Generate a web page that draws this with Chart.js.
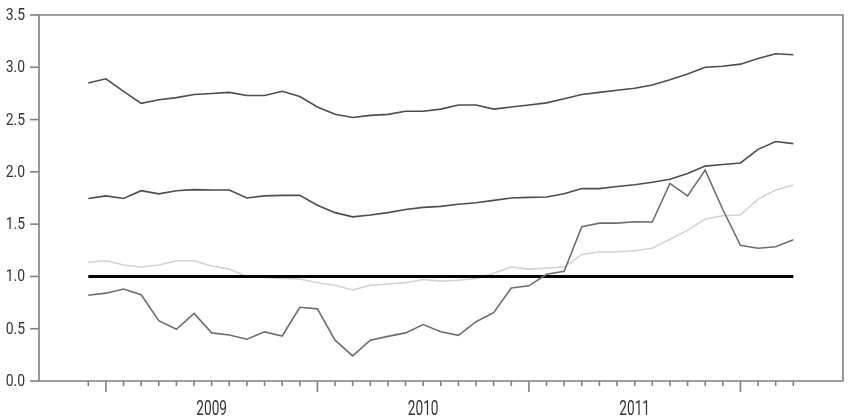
<!DOCTYPE html>
<html>
<head>
<meta charset="utf-8">
<script src="https://cdn.jsdelivr.net/npm/chart.js@4.4.1/dist/chart.umd.min.js"></script>
<style>
  html, body { margin: 0; padding: 0; background: #fff; }
</style>
</head>
<body>
<canvas id="chart" width="850" height="419"></canvas>
<script>
// monthly observations, Dec 2008 .. Apr 2012
const months = [
  '2008-12',
  '2009-01','2009-02','2009-03','2009-04','2009-05','2009-06','2009-07','2009-08','2009-09','2009-10','2009-11','2009-12',
  '2010-01','2010-02','2010-03','2010-04','2010-05','2010-06','2010-07','2010-08','2010-09','2010-10','2010-11','2010-12',
  '2011-01','2011-02','2011-03','2011-04','2011-05','2011-06','2011-07','2011-08','2011-09','2011-10','2011-11','2011-12',
  '2012-01','2012-02','2012-03','2012-04'
];
const yearLabels = ['2009', '2010', '2011'];
const yTicks = [0.0, 0.5, 1.0, 1.5, 2.0, 2.5, 3.0, 3.5];

const upper = [2.85, 2.89, 2.77, 2.655, 2.69, 2.71, 2.74, 2.75, 2.76, 2.73, 2.73, 2.77, 2.72, 2.62, 2.55, 2.52, 2.54, 2.55, 2.58, 2.58, 2.60,
  2.64, 2.64, 2.60, 2.62, 2.64, 2.66, 2.70, 2.74, 2.76, 2.78, 2.80, 2.83, 2.88, 2.935, 3.00, 3.01, 3.03, 3.085, 3.13, 3.12];
const middle = [1.745, 1.77, 1.745, 1.82, 1.79, 1.82, 1.83, 1.826, 1.826, 1.75, 1.77, 1.775, 1.775, 1.68, 1.61, 1.57, 1.587, 1.61, 1.64, 1.66, 1.67,
  1.69, 1.705, 1.727, 1.75, 1.756, 1.76, 1.79, 1.84, 1.84, 1.86, 1.877, 1.90, 1.93, 1.985, 2.055, 2.07, 2.085, 2.215, 2.29, 2.27];
const light = [1.135, 1.15, 1.11, 1.09, 1.11, 1.15, 1.15, 1.10, 1.07, 1.00, 0.99, 0.98, 0.975, 0.94, 0.915, 0.87, 0.915, 0.927, 0.94, 0.97, 0.955,
  0.963, 0.98, 1.03, 1.09, 1.07, 1.08, 1.09, 1.21, 1.233, 1.236, 1.245, 1.27, 1.355, 1.44, 1.55, 1.58, 1.587, 1.74, 1.826, 1.874];
const lower = [0.82, 0.84, 0.88, 0.825, 0.577, 0.494, 0.647, 0.46, 0.44, 0.40, 0.47, 0.43, 0.705, 0.69, 0.39, 0.24, 0.39, 0.427, 0.46, 0.54, 0.47,
  0.437, 0.567, 0.653, 0.89, 0.91, 1.02, 1.05, 1.475, 1.51, 1.51, 1.523, 1.52, 1.89, 1.77, 2.017, 1.64, 1.297, 1.27, 1.284, 1.35];
const reference = 1.0;

const pts = arr => arr.map((v, i) => ({ x: i, y: v }));

function condensedText(ctx, text, x, y, size, sx, align) {
  ctx.save();
  ctx.translate(x, y);
  ctx.scale(sx, 1);
  ctx.font = size + 'px Roboto, "Liberation Sans", sans-serif';
  ctx.textAlign = align;
  ctx.textBaseline = 'alphabetic';
  ctx.fillStyle = '#333';
  ctx.fillText(text, 0, 0);
  ctx.restore();
}

const frame = {
  id: 'frame',
  beforeDatasetsDraw(chart) {
    const ctx = chart.ctx;
    const a = chart.chartArea;
    const xs = chart.scales.x, ys = chart.scales.y;
    ctx.save();
    ctx.strokeStyle = '#808080';
    ctx.lineWidth = 1.6;
    ctx.beginPath();
    ctx.moveTo(a.left, a.top); ctx.lineTo(a.right, a.top);
    ctx.lineTo(a.right, a.bottom); ctx.lineTo(a.left, a.bottom);
    ctx.closePath();
    ctx.stroke();

    // y ticks + labels
    yTicks.forEach(v => {
      const y = ys.getPixelForValue(v);
      ctx.beginPath();
      ctx.moveTo(a.left - 9, y); ctx.lineTo(a.left, y);
      ctx.stroke();
      condensedText(ctx, v.toFixed(1), a.left - 14, y + 5, 17, 0.82, 'right');
    });

    // month ticks, longer at January
    months.forEach((m, i) => {
      const x = xs.getPixelForValue(i);
      const len = m.endsWith('-01') ? 11 : 5;
      ctx.beginPath();
      ctx.moveTo(x, a.bottom); ctx.lineTo(x, a.bottom + len);
      ctx.stroke();
    });

    // year labels centred on each year
    yearLabels.forEach(yr => {
      const jan = months.indexOf(yr + '-01');
      const x = xs.getPixelForValue(jan + 6);
      condensedText(ctx, yr, x, 415, 19.5, 0.7, 'center');
    });
    ctx.restore();
  }
};

const line = (data, color, width, order) => ({
  data: pts(data),
  borderColor: color,
  borderWidth: width,
  pointRadius: 0,
  tension: 0,
  fill: false,
  order: order
});

new Chart(document.getElementById('chart').getContext('2d'), {
  type: 'line',
  data: {
    datasets: [
      line(upper, '#4d4d4d', 1.6, 1),
      line(middle, '#4d4d4d', 1.6, 1),
      line(months.map(() => reference), '#000000', 3, 2),
      line(light, '#d2d2d2', 1.6, 3),
      line(lower, '#6e6e6e', 1.6, 1)
    ]
  },
  options: {
    responsive: false,
    animation: false,
    layout: { padding: { left: 39, top: 15, right: 7, bottom: 38 } },
    plugins: { legend: { display: false }, tooltip: { enabled: false } },
    scales: {
      x: { type: 'linear', display: false, min: -2.797, max: 42.82 },
      y: { display: false, min: 0, max: 3.5 }
    }
  },
  plugins: [frame]
});
</script>
</body>
</html>
